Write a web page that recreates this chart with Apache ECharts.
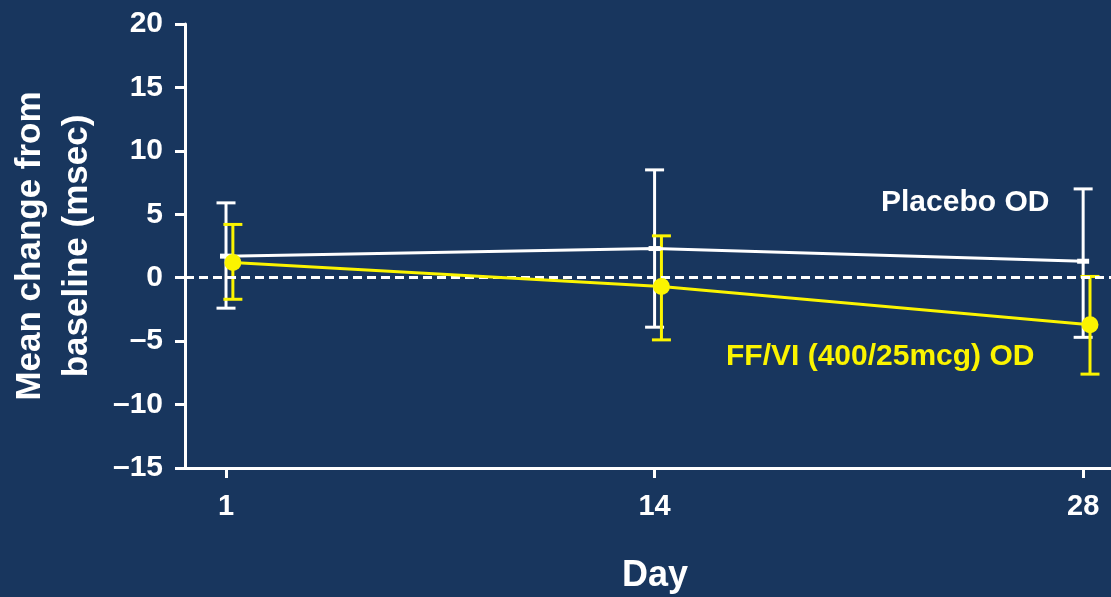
<!DOCTYPE html>
<html>
<head>
<meta charset="utf-8">
<script src="https://cdn.jsdelivr.net/npm/echarts@6/dist/echarts.min.js"></script>
<style>
html,body{margin:0;padding:0;background:#18365e;}
#chart{width:1111px;height:597px;}
</style>
</head>
<body>
<div id="chart"></div>
<script>
const days = ['1', '14', '28'];
const placeboMean = [1.7, 2.3, 1.3];
const placeboUpper = [5.9, 8.5, 7.0];
const placeboLower = [-2.4, -3.9, -4.7];
const ffviMean = [1.2, -0.7, -3.7];
const ffviUpper = [4.2, 3.3, 0.1];
const ffviLower = [-1.7, -4.9, -7.6];

const WHITE = '#ffffff';
const YELLOW = '#fbf400';
const FONT = '"Liberation Sans", Arial, sans-serif';
const FFVI_SHIFT = 0.016;

function pts(vals, shift) {
  return vals.map((v, i) => [i + shift, v]);
}
function errData(lo, hi, shift) {
  return lo.map((v, i) => [i + shift, v, hi[i]]);
}
function errSeries(lo, hi, shift, color) {
  return {
    type: 'custom',
    data: errData(lo, hi, shift),
    z: 3,
    silent: true,
    renderItem: function (params, api) {
      const x = api.value(0);
      const a = api.coord([x, api.value(1)]);
      const b = api.coord([x, api.value(2)]);
      const hw = 9.5;
      const st = { stroke: color, lineWidth: 3 };
      return {
        type: 'group',
        children: [
          { type: 'line', shape: { x1: a[0], y1: a[1], x2: b[0], y2: b[1] }, style: st },
          { type: 'line', shape: { x1: a[0] - hw, y1: a[1], x2: a[0] + hw, y2: a[1] }, style: st },
          { type: 'line', shape: { x1: b[0] - hw, y1: b[1], x2: b[0] + hw, y2: b[1] }, style: st }
        ]
      };
    }
  };
}

const chart = echarts.init(document.getElementById('chart'));
chart.setOption({
  backgroundColor: '#18365e',
  animation: false,
  grid: { left: 185, right: 0, top: 24, bottom: 129, containLabel: false, outerBoundsMode: 'none' },
  xAxis: {
    type: 'value',
    min: -0.0957,
    max: 2.065,
    name: 'Day',
    nameLocation: 'middle',
    nameGap: 90,
    nameTextStyle: { color: WHITE, fontSize: 36, fontWeight: 'bold', fontFamily: FONT, padding: [0, 0, 0, 14] },
    axisLine: { show: true, onZero: false, lineStyle: { color: WHITE, width: 3 } },
    axisTick: { show: true, customValues: [0, 1, 2], length: 10, lineStyle: { color: WHITE, width: 3 } },
    axisLabel: {
      customValues: [0, 1, 2],
      color: WHITE, fontSize: 29, fontWeight: 'bold', fontFamily: FONT, margin: 24,
      formatter: v => days[Math.round(v)]
    },
    splitLine: { show: false }
  },
  yAxis: {
    type: 'value',
    min: -15,
    max: 20,
    interval: 5,
    name: 'Mean change from\nbaseline (msec)',
    nameLocation: 'middle',
    nameGap: 84,
    nameTextStyle: { color: WHITE, fontSize: 35, fontWeight: 'bold', fontFamily: FONT, lineHeight: 47 },
    axisLine: { show: true, onZero: false, lineStyle: { color: WHITE, width: 3 } },
    axisTick: { show: true, length: 10, lineStyle: { color: WHITE, width: 3 } },
    axisLabel: {
      color: WHITE, fontSize: 30, fontWeight: 'bold', fontFamily: FONT, margin: 22,
      formatter: v => (v < 0 ? '\u2013' + Math.abs(v) : String(v))
    },
    splitLine: { show: false }
  },
  series: [
    errSeries(placeboLower, placeboUpper, 0, WHITE),
    {
      type: 'line',
      data: pts(placeboMean, 0),
      z: 4,
      symbol: 'rect',
      symbolSize: [12, 5],
      itemStyle: { color: WHITE },
      lineStyle: { color: WHITE, width: 3 },
      markLine: {
        silent: true,
        symbol: 'none',
        label: { show: false },
        lineStyle: { color: WHITE, width: 3, type: [9, 5] },
        data: [{ yAxis: 0 }]
      }
    },
    errSeries(ffviLower, ffviUpper, FFVI_SHIFT, YELLOW),
    {
      type: 'line',
      data: pts(ffviMean, FFVI_SHIFT),
      z: 5,
      symbol: 'circle',
      symbolSize: 17,
      itemStyle: { color: YELLOW },
      lineStyle: { color: YELLOW, width: 3 }
    }
  ],
  graphic: [
    {
      type: 'text', left: 881, top: 188, z: 10,
      style: { text: 'Placebo OD', fill: WHITE, fontSize: 30, fontWeight: 'bold', fontFamily: FONT }
    },
    {
      type: 'text', left: 726, top: 342, z: 10,
      style: { text: 'FF/VI (400/25mcg) OD', fill: YELLOW, fontSize: 30, fontWeight: 'bold', fontFamily: FONT }
    }
  ]
});
</script>
</body>
</html>
